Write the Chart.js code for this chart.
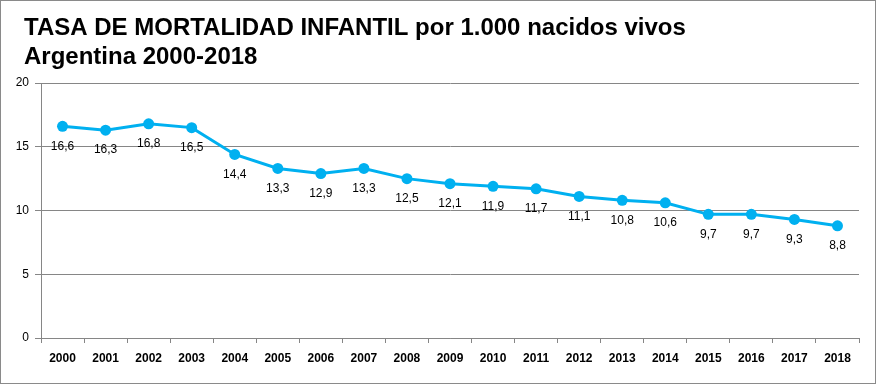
<!DOCTYPE html>
<html>
<head>
<meta charset="utf-8">
<script src="https://cdn.jsdelivr.net/npm/chart.js@4"></script>
<style>
    html, body { margin: 0; padding: 0; background: #fff; }
    #frame { width: 874px; height: 382px; border: 1px solid #8a8a8a; position: relative; }
    canvas { display: block; }
</style>
</head>
<body>
<div id="frame"><canvas id="mortChart" width="874" height="382"></canvas></div>
<script>
// Chart data
const years = ['2000', '2001', '2002', '2003', '2004', '2005', '2006', '2007', '2008', '2009',
    '2010', '2011', '2012', '2013', '2014', '2015', '2016', '2017', '2018'];
const tasa = [16.6, 16.3, 16.8, 16.5, 14.4, 13.3, 12.9, 13.3, 12.5, 12.1,
    11.9, 11.7, 11.1, 10.8, 10.6, 9.7, 9.7, 9.3, 8.8];
const titleLines = ['TASA DE MORTALIDAD INFANTIL por 1.000 nacidos vivos', 'Argentina 2000-2018'];

const gridColor = '#868686';
const lineColor = '#00B0F0';

// title drawn at a fixed spot, left of the plot area
const titlePlugin = {
    id: 'leftTitle',
    afterDraw(chart) {
        const ctx = chart.ctx;
        ctx.save();
        ctx.fillStyle = '#000';
        ctx.font = 'bold 24px "Liberation Sans", Arial, sans-serif';
        ctx.textBaseline = 'middle';
        ctx.textAlign = 'left';
        titleLines.forEach((t, i) => ctx.fillText(t, 23, 27 + i * 29));
        ctx.restore();
    }
};

// value labels under each point
const labelPlugin = {
    id: 'pointLabels',
    afterDatasetsDraw(chart) {
        const ctx = chart.ctx;
        const meta = chart.getDatasetMeta(0);
        ctx.save();
        ctx.fillStyle = '#000';
        ctx.font = '12px "Liberation Sans", Arial, sans-serif';
        ctx.textAlign = 'center';
        ctx.textBaseline = 'middle';
        meta.data.forEach((pt, i) => {
            ctx.fillText(tasa[i].toFixed(1).replace('.', ','), pt.x, pt.y + 20);
        });
        ctx.restore();
    }
};

new Chart(document.getElementById('mortChart'), {
    type: 'line',
    data: {
        labels: years,
        datasets: [{
            data: tasa,
            borderColor: lineColor,
            backgroundColor: lineColor,
            borderWidth: 3,
            pointRadius: 5.5,
            pointBackgroundColor: lineColor,
            pointBorderWidth: 0,
            tension: 0
        }]
    },
    options: {
        responsive: false,
        animation: false,
        layout: { padding: { top: 82, right: 16, bottom: 0, left: 0 } },
        plugins: {
            legend: { display: false },
            title: { display: false },
            tooltip: { enabled: false }
        },
        scales: {
            x: {
                offset: true,
                afterFit: s => { s.height = 45; },
                grid: {
                    offset: true,
                    drawOnChartArea: false,
                    drawTicks: true,
                    tickLength: 5,
                    color: gridColor
                },
                border: { display: true, color: gridColor },
                ticks: {
                    color: '#000',
                    padding: 8,
                    maxRotation: 0,
                    autoSkip: false,
                    font: { family: '"Liberation Sans", Arial, sans-serif', size: 12, weight: 'bold' }
                }
            },
            y: {
                min: 0,
                max: 20,
                afterFit: s => { s.width = 40; },
                grid: { color: gridColor, tickLength: 6 },
                border: { display: true, color: gridColor },
                ticks: {
                    stepSize: 5,
                    color: '#000',
                    padding: 6,
                    font: { family: '"Liberation Sans", Arial, sans-serif', size: 12 }
                }
            }
        }
    },
    plugins: [titlePlugin, labelPlugin]
});
</script>
</body>
</html>
